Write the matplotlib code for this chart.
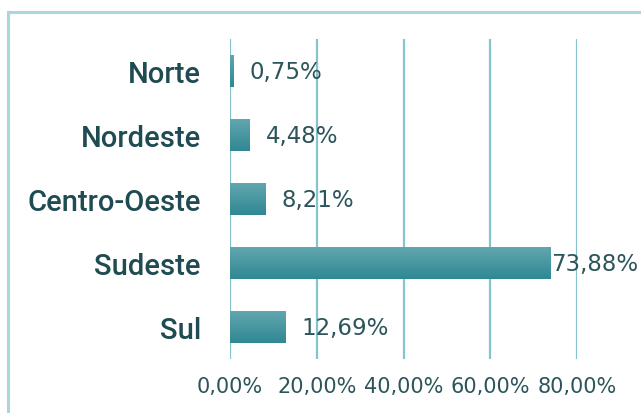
import matplotlib
matplotlib.use("Agg")
import matplotlib.pyplot as plt
import numpy as np
from matplotlib.patches import Rectangle
from matplotlib.colors import LinearSegmentedColormap

categories = ["Norte", "Nordeste", "Centro-Oeste", "Sudeste", "Sul"]
values = [0.75, 4.48, 8.21, 73.88, 12.69]
labels = ["0,75%", "4,48%", "8,21%", "73,88%", "12,69%"]
xticks = [0, 20, 40, 60, 80]
xtick_labels = ["0,00%", "20,00%", "40,00%", "60,00%", "80,00%"]

W, H = 641, 414
fig = plt.figure(figsize=(W / 100, H / 100), dpi=100)
fig.patch.set_facecolor("white")

# frame border (top and left visible)
fig.add_artist(Rectangle((7.5 / W, -0.05), 1.1, 1 - 12.5 / H + 0.05,
                         transform=fig.transFigure, fill=False,
                         edgecolor="#abd6dc", linewidth=2.2))

ax = fig.add_axes([230 / W, 1 - 360 / H, (577 - 230) / W, (360 - 40) / H])

grid_c = "#86c3cc"
for x in xticks:
    ax.axvline(x, color=grid_c, linewidth=1.6, zorder=1)

y = np.arange(len(categories))
bars = ax.barh(y, values, height=0.5, color="#3f929e", zorder=2, edgecolor="none")

grad = np.linspace(0, 1, 100).reshape(-1, 1)
cmap = LinearSegmentedColormap.from_list("g", ["#62a6af", "#2f8894"])
for b in bars:
    x0, y0 = b.get_x(), b.get_y()
    w, h = b.get_width(), b.get_height()
    im = ax.imshow(grad, cmap=cmap, aspect="auto",
                   extent=[x0, x0 + w, y0 + h, y0], zorder=3)
    im.set_clip_path(b)
ax.set_xlim(0, 80)
ax.set_ylim(4.5, -0.5)

val_c = "#2c555b"
for i, (v, lab) in enumerate(zip(values, labels)):
    off = 11.5 if v < 50 else 0.5
    ax.annotate(lab, xy=(v, i), xytext=(off, 0), textcoords="offset points",
                ha="left", va="center", fontsize=16.5, color=val_c,
                family="DejaVu Sans", annotation_clip=False, zorder=4)

ax.set_yticks(y)
ax.set_yticklabels(categories, fontsize=21, color="#1f4c52",
                   family="Roboto", fontweight="medium")
ax.set_xticks(xticks)
ax.set_xticklabels(xtick_labels, fontsize=15, color=val_c, family="DejaVu Sans")
ax.tick_params(axis="y", length=0, pad=21)
ax.tick_params(axis="x", length=0, pad=12)
for s in ax.spines.values():
    s.set_visible(False)
ax.set_facecolor("none")

fig.savefig("out.png", dpi=100)
